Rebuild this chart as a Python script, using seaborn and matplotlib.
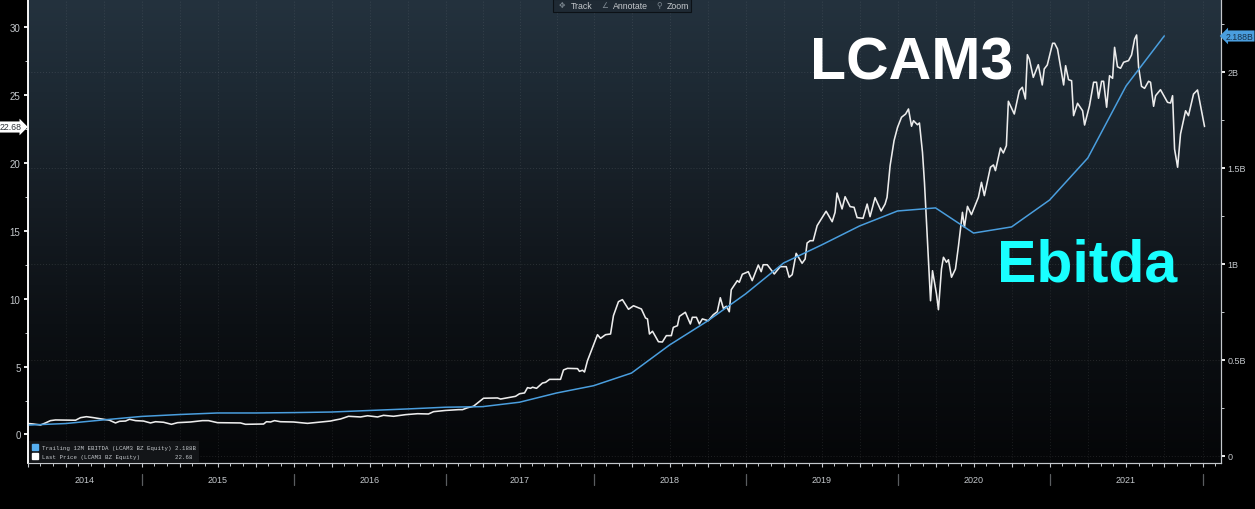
import numpy as np
import matplotlib

matplotlib.use("Agg")
import matplotlib.pyplot as plt
from matplotlib.colors import LinearSegmentedColormap
from matplotlib.patches import Patch, Rectangle
import seaborn as sns

WIDTH, HEIGHT = 1255, 510

# trailing 12M EBITDA, quarterly, in BRL billions
ebitda_years = [
    2014.25, 2014.5, 2014.75, 2015.0, 2015.25, 2015.5, 2015.75, 2016.0,
    2016.25, 2016.5, 2016.75, 2017.0, 2017.25, 2017.5, 2017.75, 2018.0,
    2018.25, 2018.5, 2018.75, 2019.0, 2019.25, 2019.5, 2019.75, 2020.0,
    2020.25, 2020.5, 2020.75, 2021.0, 2021.25, 2021.5, 2021.75,
]
ebitda_values = [
    0.161, 0.169, 0.188, 0.206, 0.216, 0.224, 0.224, 0.226,
    0.229, 0.237, 0.245, 0.254, 0.257, 0.280, 0.328, 0.366,
    0.432, 0.578, 0.703, 0.844, 1.005, 1.099, 1.198, 1.276,
    1.292, 1.161, 1.193, 1.333, 1.552, 1.927, 2.188,
]

# last price
price_years = [
    2014.25, 2014.263, 2014.289, 2014.336, 2014.368, 2014.401, 2014.434, 2014.566,
    2014.599, 2014.638, 2014.684, 2014.75, 2014.789, 2014.829, 2014.855, 2014.895,
    2014.921, 2014.961, 2015.013, 2015.059, 2015.092, 2015.145, 2015.197, 2015.237,
    2015.322, 2015.401, 2015.441, 2015.5, 2015.651, 2015.684, 2015.803, 2015.822,
    2015.849, 2015.875, 2015.914, 2016.0, 2016.092, 2016.178, 2016.243, 2016.276,
    2016.309, 2016.362, 2016.441, 2016.487, 2016.553, 2016.592, 2016.638, 2016.658,
    2016.737, 2016.816, 2016.888, 2016.921, 2017.0, 2017.088, 2017.115, 2017.149,
    2017.189, 2017.257, 2017.351, 2017.372, 2017.473, 2017.5, 2017.534, 2017.554,
    2017.574, 2017.588, 2017.615, 2017.655, 2017.676, 2017.703, 2017.777, 2017.797,
    2017.824, 2017.892, 2017.905, 2017.926, 2017.939, 2017.959, 2018.026, 2018.046,
    2018.079, 2018.112, 2018.131, 2018.164, 2018.19, 2018.23, 2018.263, 2018.315,
    2018.342, 2018.355, 2018.368, 2018.388, 2018.427, 2018.453, 2018.479, 2018.512,
    2018.525, 2018.552, 2018.565, 2018.604, 2018.637, 2018.65, 2018.677, 2018.696,
    2018.716, 2018.755, 2018.788, 2018.814, 2018.834, 2018.854, 2018.874, 2018.893,
    2018.906, 2018.946, 2018.959, 2018.979, 2019.018, 2019.044, 2019.084, 2019.103,
    2019.116, 2019.143, 2019.189, 2019.228, 2019.268, 2019.287, 2019.307, 2019.333,
    2019.372, 2019.392, 2019.405, 2019.425, 2019.445, 2019.471, 2019.53, 2019.57,
    2019.589, 2019.602, 2019.635, 2019.655, 2019.688, 2019.714, 2019.734, 2019.773,
    2019.8, 2019.819, 2019.852, 2019.892, 2019.918, 2019.931, 2019.951, 2019.977,
    2020.0, 2020.026, 2020.053, 2020.072, 2020.092, 2020.105, 2020.131, 2020.144,
    2020.164, 2020.177, 2020.197, 2020.217, 2020.23, 2020.256, 2020.269, 2020.289,
    2020.302, 2020.322, 2020.335, 2020.355, 2020.381, 2020.401, 2020.427, 2020.44,
    2020.46, 2020.486, 2020.532, 2020.552, 2020.571, 2020.611, 2020.631, 2020.644,
    2020.677, 2020.696, 2020.716, 2020.729, 2020.768, 2020.801, 2020.821, 2020.841,
    2020.854, 2020.867, 2020.893, 2020.926, 2020.952, 2020.965, 2020.985, 2021.02,
    2021.033, 2021.052, 2021.092, 2021.105, 2021.124, 2021.144, 2021.157, 2021.183,
    2021.216, 2021.229, 2021.261, 2021.288, 2021.307, 2021.32, 2021.34, 2021.353,
    2021.373, 2021.392, 2021.412, 2021.425, 2021.444, 2021.464, 2021.484, 2021.516,
    2021.536, 2021.556, 2021.569, 2021.582, 2021.601, 2021.621, 2021.647, 2021.66,
    2021.68, 2021.693, 2021.725, 2021.771, 2021.791, 2021.804, 2021.817, 2021.837,
    2021.856, 2021.889, 2021.908, 2021.941, 2021.967, 2022.013,
]
price_values = [
    0.70, 0.80, 0.77, 0.70, 0.85, 1.02, 1.07, 1.05,
    1.24, 1.31, 1.24, 1.12, 1.05, 0.85, 0.97, 0.99,
    1.12, 1.02, 0.99, 0.85, 0.94, 0.90, 0.75, 0.87,
    0.92, 1.02, 1.02, 0.87, 0.85, 0.75, 0.77, 0.94,
    0.92, 1.02, 0.94, 0.92, 0.82, 0.92, 0.99, 1.07,
    1.14, 1.34, 1.29, 1.38, 1.29, 1.41, 1.36, 1.34,
    1.46, 1.53, 1.51, 1.68, 1.77, 1.83, 1.83, 1.97,
    2.08, 2.67, 2.69, 2.61, 2.81, 3.00, 3.06, 3.45,
    3.40, 3.48, 3.40, 3.79, 3.84, 4.06, 4.06, 4.75,
    4.87, 4.85, 4.65, 4.73, 4.60, 5.43, 7.35, 7.08,
    7.35, 7.40, 8.75, 9.78, 9.93, 9.22, 9.48, 9.24,
    8.58, 8.51, 7.40, 7.60, 6.83, 6.81, 7.28, 7.28,
    7.89, 8.01, 8.70, 9.00, 8.14, 8.63, 8.63, 8.14,
    8.51, 8.38, 8.82, 9.04, 10.07, 9.29, 9.44, 9.04,
    10.66, 11.33, 11.21, 11.80, 11.99, 11.33, 12.48, 11.99,
    12.50, 12.50, 11.82, 12.36, 12.36, 11.58, 11.77, 13.34,
    12.61, 12.92, 14.10, 14.27, 14.27, 15.38, 16.44, 15.67,
    16.36, 17.78, 16.61, 17.51, 16.78, 16.73, 15.97, 15.92,
    16.97, 16.04, 17.44, 16.46, 16.97, 17.47, 19.79, 21.64,
    22.62, 23.36, 23.60, 23.97, 22.70, 23.11, 22.81, 22.94,
    20.78, 18.57, 14.15, 9.85, 12.06, 10.35, 9.19, 12.19,
    13.05, 12.68, 12.87, 11.58, 12.19, 13.90, 16.36, 15.26,
    16.80, 16.19, 17.47, 18.57, 17.59, 19.68, 19.85, 19.43,
    21.10, 20.73, 21.27, 24.54, 23.60, 25.32, 25.57, 24.71,
    27.97, 27.65, 26.30, 27.23, 25.74, 26.92, 27.21, 28.81,
    28.81, 28.39, 25.74, 27.16, 26.13, 26.05, 23.48, 24.39,
    23.84, 22.79, 24.21, 25.94, 25.94, 24.76, 26.01, 26.01,
    24.10, 26.42, 26.23, 28.51, 27.08, 26.97, 27.41, 27.53,
    27.95, 29.12, 29.42, 27.04, 25.64, 25.49, 26.01, 25.94,
    24.17, 24.95, 25.39, 24.46, 24.41, 24.95, 21.02, 19.68,
    22.13, 23.84, 23.48, 25.07, 25.37, 22.68,
]

year_labels = [2014, 2015, 2016, 2017, 2018, 2019, 2020, 2021]
price_ticks = [0, 5, 10, 15, 20, 25, 30]
ebitda_ticks = [0, 0.5, 1.0, 1.5, 2.0]
ebitda_tick_labels = ["0", "0.5B", "1B", "1.5B", "2B"]

# the terminal packs trading days, so 2017 comes out a bit narrower than the rest
year_edges = [2014, 2015, 2016, 2017, 2018, 2019, 2020, 2021, 2022, 2023]
year_stops = [-11, 141, 293, 445, 593, 745, 897, 1049, 1202, 1354]

BLUE = "#4a9ede"
GREY = "#c4c8cc"


def px(x, y):
    """Reference pixel to figure fraction"""
    return x / WIDTH, 1 - y / HEIGHT


sns.set_theme(style="dark")
plt.rcParams["font.family"] = ["Liberation Sans", "DejaVu Sans"]

fig = plt.figure(figsize=(WIDTH / 100, HEIGHT / 100), dpi=100, facecolor="black")
ax_box = [27.5 / WIDTH, 1 - 464 / HEIGHT, 1193 / WIDTH, 464 / HEIGHT]

# panel gradient
bg_ax = fig.add_axes(ax_box, zorder=-1)
panel_cmap = LinearSegmentedColormap.from_list(
    "panel",
    [(0, "#24323e"), (0.2, "#1d2933"), (0.45, "#151c23"), (0.7, "#0c1014"), (1, "#050608")],
)
bg_ax.imshow(np.linspace(0, 1, 256)[:, None], aspect="auto", cmap=panel_cmap)
bg_ax.axis("off")

ax = fig.add_axes(ax_box)
ax.patch.set_alpha(0)
ax.set_xscale(
    "function",
    functions=(
        lambda v: np.interp(v, year_edges, year_stops),
        lambda v: np.interp(v, year_stops, year_edges),
    ),
)
sns.lineplot(x=price_years, y=price_values, ax=ax, color="#ececec", linewidth=1.15, errorbar=None)

ax2 = ax.twinx()
ax2.patch.set_alpha(0)
sns.lineplot(x=ebitda_years, y=ebitda_values, ax=ax2, color=BLUE, linewidth=1.1, errorbar=None)

ax.set_xlim(2014.25, 2022.118)
ax.set_ylim(-2.10, 32.07)
ax2.set_ylim(-0.0365, 2.380)
ax.set_xlabel("")
ax.set_ylabel("")
ax2.set_ylabel("")

# axes, ticks and grids
ax.set_xticks(np.arange(2014.25, 2022.1, 0.25))
ax.set_xticks(np.arange(2014.25, 2022.1, 1 / 12), minor=True)
ax.set_xticklabels([])
ax.tick_params(axis="x", which="major", length=3, width=0.8, color=GREY, bottom=True)
ax.tick_params(axis="x", which="minor", length=2, width=0.7, color=GREY, bottom=True)
ax.grid(axis="x", color="white", alpha=0.09, linestyle=(0, (1, 2)), linewidth=0.7)
ax.grid(axis="y", visible=False)

ax.set_yticks(price_ticks)
ax.set_yticks(np.arange(2.5, 30, 5), minor=True)
ax.tick_params(axis="y", which="major", length=3, width=1.3, color="white", left=True,
               labelsize=7, labelcolor=GREY, pad=2)
ax.tick_params(axis="y", which="minor", length=2, width=0.7, color=GREY, left=True)

ax2.set_yticks(ebitda_ticks)
ax2.set_yticklabels(ebitda_tick_labels)
ax2.set_yticks(np.arange(0.25, 2.3, 0.5), minor=True)
ax2.tick_params(axis="y", which="major", length=3, width=1.3, color="white", right=True,
                labelsize=6.5, labelcolor=GREY, pad=2)
ax2.tick_params(axis="y", which="minor", length=2, width=0.7, color=GREY, right=True)
ax2.grid(axis="y", color="white", alpha=0.11, linestyle=(0, (1, 2)), linewidth=0.7)
ax2.grid(axis="x", visible=False)

for a in (ax, ax2):
    a.spines["top"].set_visible(False)
    a.spines["left"].set_color("white")
    a.spines["left"].set_linewidth(1.1)
    a.spines["right"].set_color(GREY)
    a.spines["right"].set_linewidth(0.8)
    a.spines["bottom"].set_color(GREY)
    a.spines["bottom"].set_linewidth(0.8)

# year bands under the axis
band = ax.get_xaxis_transform()
for year in year_labels[1:] + [2022]:
    ax.plot([year, year], [-0.024, -0.048], transform=band, color="#5a5d60",
            linewidth=0.9, clip_on=False)
for year in year_labels:
    mid = 2014.625 if year == 2014 else year + 0.5
    ax.text(mid, -0.036, str(year), transform=band, ha="center", va="center",
            fontsize=6.5, color=GREY)

# legend
handles = [Patch(color="#55aef0"), Patch(color="white")]
labels = [
    "Trailing 12M EBITDA (LCAM3 BZ Equity) 2.188B",
    "Last Price (LCAM3 BZ Equity)          22.68",
]
ax2.legend(
    handles, labels, loc="lower left", bbox_to_anchor=(0.001, 0.003), borderaxespad=0,
    prop={"family": "Liberation Mono", "size": 4.15}, labelcolor=GREY, facecolor="#131518",
    edgecolor="none", framealpha=1, fancybox=False, handlelength=1.05, handleheight=1.2,
    handletextpad=0.7, labelspacing=0.45, borderpad=0.5,
)

# last value tags
tx, ty = px(11, 128)
fig.text(tx, ty, "22.68", ha="center", va="center", fontsize=6.3, color="#30343a",
         bbox=dict(boxstyle="rarrow,pad=0.12", facecolor="white", edgecolor="none"))
tx, ty = px(1239.5, 37)
fig.text(tx, ty, "2.188B", ha="center", va="center", fontsize=6.3, color="#17324a",
         bbox=dict(boxstyle="larrow,pad=0.12", facecolor=BLUE, edgecolor="none"))

# toolbar
tb_x, tb_y = px(553, 13)
fig.add_artist(Rectangle((tb_x, tb_y), 138 / WIDTH, 13 / HEIGHT, transform=fig.transFigure,
                         facecolor="#1f2a34", edgecolor="#0c1116", linewidth=0.8))
for icon, ix, name, nx in [("✥", 562, "Track", 571), ("∠", 605, "Annotate", 613), ("⚲", 659, "Zoom", 667)]:
    fig.text(*px(ix, 6.5), icon, ha="center", va="center", fontsize=5.5, color="#7f8a93")
    fig.text(*px(nx, 6.5), name, ha="left", va="center", fontsize=6.3, color=GREY)

# big call-outs
fig.text(*px(810, 79), "LCAM3", fontsize=42.5, fontweight="bold", color="white", va="baseline")
fig.text(*px(997, 282), "Ebitda", fontsize=42.5, fontweight="bold", color="#19ffff", va="baseline")

fig.savefig("out.png", dpi=100, facecolor="black")
